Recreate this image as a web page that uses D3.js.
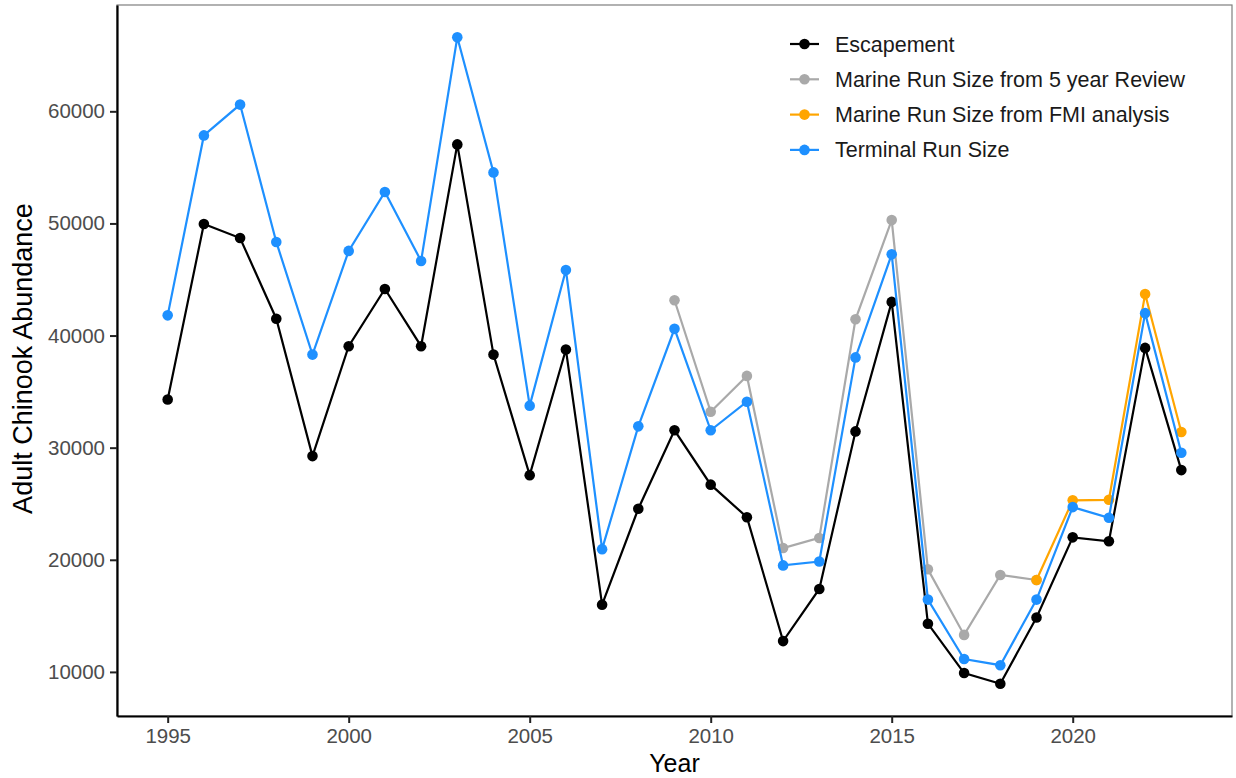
<!DOCTYPE html>
<html>
<head>
<meta charset="utf-8">
<script src="https://cdn.jsdelivr.net/npm/d3@7"></script>
<style>
  body { margin: 0; background: #fff; }
  text { font-family: "Liberation Sans", Arial, sans-serif; }
</style>
</head>
<body>
<svg id="chart" width="1236" height="778"></svg>
<script>
let margin = { top: 5, right: 4, bottom: 62, left: 117 }

// values
const escYears = d3.range(1995, 2024)
const escapement = [34300, 49950, 48700, 41500, 29250, 39050, 44150, 39050, 57050, 38300,
  27550, 38750, 16000, 24550, 31550, 26700, 23800, 12750, 17400, 31450,
  43000, 14300, 9900, 8950, 14850, 22000, 21650, 38900, 28000]

const marine5Years = d3.range(2009, 2020)
const marine5 = [43150, 33200, 36400, 21050, 21950, 41450, 50300, 19150, 13300, 18650, 18200]

const fmiYears = d3.range(2019, 2024)
const marineFmi = [18200, 25300, 25350, 43700, 31400]

const termYears = d3.range(1995, 2024)
const terminal = [41800, 57850, 60600, 48350, 38300, 47550, 52800, 46650, 66600, 54550,
  33750, 45850, 20950, 31900, 40600, 31550, 34100, 19500, 19850, 38050,
  47250, 16450, 11150, 10600, 16450, 24700, 23750, 42000, 29550]

const seriesNames = ["Escapement", "Marine Run Size from 5 year Review",
  "Marine Run Size from FMI analysis", "Terminal Run Size"]
const seriesColors = ["#000000", "#A9A9A9", "#FFA500", "#1E90FF"]
const yTicks = [10000, 20000, 30000, 40000, 50000, 60000]
const xTicks = [1995, 2000, 2005, 2010, 2015, 2020]

const series = [
  { name: seriesNames[0], color: seriesColors[0], years: escYears, values: escapement },
  { name: seriesNames[1], color: seriesColors[1], years: marine5Years, values: marine5 },
  { name: seriesNames[2], color: seriesColors[2], years: fmiYears, values: marineFmi },
  { name: seriesNames[3], color: seriesColors[3], years: termYears, values: terminal }
]

var svg = d3.select("#chart")
var width = +svg.attr("width") - margin.left - margin.right
var height = +svg.attr("height") - margin.top - margin.bottom

// ggplot style 5% expansion
function expand(ext) {
  var pad = (ext[1] - ext[0]) * 0.05
  return [ext[0] - pad, ext[1] + pad]
}
var allYears = [].concat(escYears, marine5Years, fmiYears, termYears)
var allVals = [].concat(escapement, marine5, marineFmi, terminal)

var xScale = d3.scaleLinear().domain(expand(d3.extent(allYears))).range([0, width])
var yScale = d3.scaleLinear().domain(expand(d3.extent(allVals))).range([height, 0])

var g = svg.append("g").attr("transform", `translate(${margin.left}, ${margin.top})`)

// panel border (top / right thin grey)
g.append("rect")
  .attr("x", 0).attr("y", 0)
  .attr("width", width).attr("height", height)
  .attr("fill", "none")
  .attr("stroke", "#7f7f7f")
  .attr("stroke-width", 1.2)

var xAxis = g.append("g")
  .attr("transform", `translate(0, ${height})`)
  .call(d3.axisBottom(xScale).tickValues(xTicks).tickFormat(d3.format("d"))
    .tickSizeInner(7).tickSizeOuter(0).tickPadding(5))
var yAxis = g.append("g")
  .call(d3.axisLeft(yScale).tickValues(yTicks).tickFormat(d3.format("d"))
    .tickSizeInner(7).tickSizeOuter(0).tickPadding(5))

;[xAxis, yAxis].forEach(function(ax) {
  ax.select(".domain").attr("stroke", "#000").attr("stroke-width", 2.2)
  ax.selectAll(".tick line").attr("stroke", "#222").attr("stroke-width", 2)
  ax.selectAll(".tick text")
    .attr("fill", "#4d4d4d")
    .style("font-size", "20.5px")
    .style("font-family", "'Liberation Sans', Arial, sans-serif")
})

// axis titles
svg.append("text")
  .attr("x", margin.left + width / 2)
  .attr("y", 772)
  .attr("text-anchor", "middle")
  .style("font-size", "25px")
  .text("Year")

svg.append("text")
  .attr("transform", "rotate(-90)")
  .attr("x", -(margin.top + height / 2) + 2)
  .attr("y", 32)
  .attr("text-anchor", "middle")
  .style("font-size", "27px")
  .text("Adult Chinook Abundance")

var line = d3.line()
  .x(d => xScale(d.year))
  .y(d => yScale(d.value))

for (var i = 0; i < series.length; i++) {
  var s = series[i]
  var pts = s.years.map((y, j) => ({ year: y, value: s.values[j] }))
  var sg = g.append("g")
  sg.append("path")
    .datum(pts)
    .attr("fill", "none")
    .attr("stroke", s.color)
    .attr("stroke-width", 2.2)
    .attr("d", line)
  sg.selectAll("circle")
    .data(pts)
    .enter().append("circle")
    .attr("cx", d => xScale(d.year))
    .attr("cy", d => yScale(d.value))
    .attr("r", 5.3)
    .attr("fill", s.color)
}

// legend
var legend = svg.append("g").attr("transform", "translate(790, 44)")
for (var i = 0; i < series.length; i++) {
  var row = legend.append("g").attr("transform", `translate(0, ${i * 35.3})`)
  row.append("line")
    .attr("x1", 0).attr("x2", 29)
    .attr("y1", 0).attr("y2", 0)
    .attr("stroke", series[i].color)
    .attr("stroke-width", 2.2)
  row.append("circle")
    .attr("cx", 14.5).attr("cy", 0).attr("r", 5.3)
    .attr("fill", series[i].color)
  row.append("text")
    .attr("x", 45).attr("y", 0)
    .attr("dy", "0.35em")
    .style("font-size", "21.5px")
    .attr("fill", "#1a1a1a")
    .text(series[i].name)
}
</script>
</body>
</html>
